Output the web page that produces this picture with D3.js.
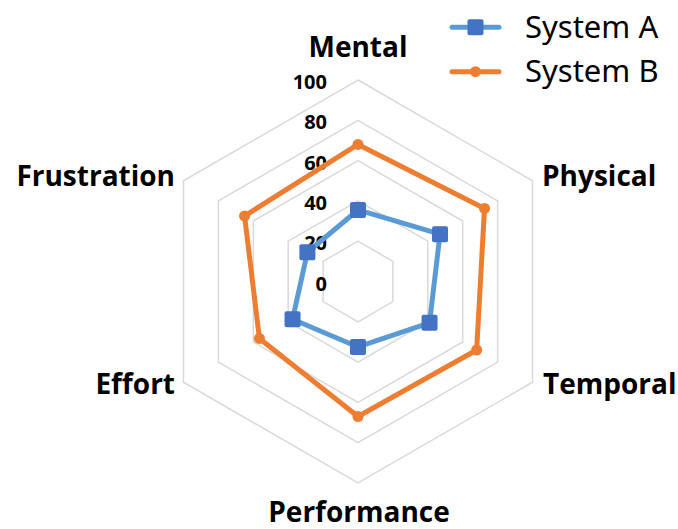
<!DOCTYPE html>
<html><head><meta charset="utf-8">
<script src="https://cdn.jsdelivr.net/npm/d3@7"></script>
<style>html,body{margin:0;padding:0;background:#fff;}svg{display:block;}</style>
</head><body>
<script>
const categories = ["Mental","Physical","Temporal","Performance","Effort","Frustration"];
const systemA = [35.5, 47, 41, 32.5, 37.5, 29];
const systemB = [68, 72.5, 68, 67, 56.5, 65];
const tickValues = [0, 20, 40, 60, 80, 100];
const seriesNames = ["System A","System B"];

const W = 678, H = 529;
const cx = 358, cy = 281.5, R = 201.5;
const svg = d3.select("body").append("svg").attr("width", W).attr("height", H);
const r = d3.scaleLinear().domain([0, 100]).range([0, R]);
const ang = d3.scalePoint().domain(categories).range([0, 360 * 5 / 6]);
function pt(cat, v) {
  const a = (ang(cat) - 90) * Math.PI / 180;
  return [cx + r(v) * Math.cos(a), cy + r(v) * Math.sin(a)];
}
const line = d3.line().curve(d3.curveLinearClosed);

// grid
const g = svg.append("g");
tickValues.filter(t => t > 0).forEach(t => {
  g.append("path").attr("d", line(categories.map(c => pt(c, t))))
    .attr("fill", "none").attr("stroke", "#d9d9d9").attr("stroke-width", 1.5);
});

// tick labels
tickValues.forEach(t => {
  svg.append("text").attr("x", 327).attr("y", cy - r(t) + 1.5)
    .attr("text-anchor", "end").attr("dominant-baseline", "central")
    .attr("font-family", "'Open Sans', sans-serif").attr("font-weight", "bold")
    .attr("font-size", 20).attr("fill", "#000").text(t);
});

// series
const series = [
  {name: seriesNames[0], values: systemA, line: "#5b9bd5", marker: "#4472c4", shape: "square"},
  {name: seriesNames[1], values: systemB, line: "#ed7d31", marker: "#ed7d31", shape: "circle"}
];
series.forEach(s => {
  const pts = categories.map((c, i) => pt(c, s.values[i]));
  svg.append("path").attr("d", line(pts)).attr("fill", "none")
    .attr("stroke", s.line).attr("stroke-width", 5).attr("stroke-linejoin", "round");
  pts.forEach(p => {
    if (s.shape === "square") {
      svg.append("rect").attr("x", p[0] - 8).attr("y", p[1] - 8).attr("width", 16).attr("height", 16)
        .attr("rx", 2).attr("fill", s.marker);
    } else {
      svg.append("circle").attr("cx", p[0]).attr("cy", p[1]).attr("r", 5.5).attr("fill", s.marker);
    }
  });
});

// axis labels
const labelPos = {
  Mental: {x: 358, y: 57, anchor: "middle"},
  Physical: {x: 542, y: 186, anchor: "start"},
  Temporal: {x: 543, y: 394, anchor: "start"},
  Performance: {x: 359, y: 522, anchor: "middle"},
  Effort: {x: 175, y: 394, anchor: "end"},
  Frustration: {x: 175, y: 186, anchor: "end"}
};
categories.forEach(c => {
  const p = labelPos[c];
  svg.append("text").attr("x", p.x).attr("y", p.y).attr("text-anchor", p.anchor)
    .attr("font-family", "'Open Sans', sans-serif").attr("font-weight", "bold")
    .attr("font-size", 28).attr("fill", "#000").text(c);
});

// legend
const legY = [27.3, 71.7];
series.forEach((s, i) => {
  const y = legY[i];
  svg.append("line").attr("x1", 452).attr("x2", 499).attr("y1", y).attr("y2", y)
    .attr("stroke", s.line).attr("stroke-width", 5).attr("stroke-linecap", "round");
  if (s.shape === "square") {
    svg.append("rect").attr("x", 475.5 - 8).attr("y", y - 8).attr("width", 16).attr("height", 16)
      .attr("rx", 2).attr("fill", s.marker);
  } else {
    svg.append("circle").attr("cx", 475.5).attr("cy", y).attr("r", 5.5).attr("fill", s.marker);
  }
  svg.append("text").attr("x", 525).attr("y", y + 10.5)
    .attr("font-family", "'Noto Sans', sans-serif").attr("font-size", 31)
    .attr("fill", "#000").text(s.name);
});
</script>
</body></html>
